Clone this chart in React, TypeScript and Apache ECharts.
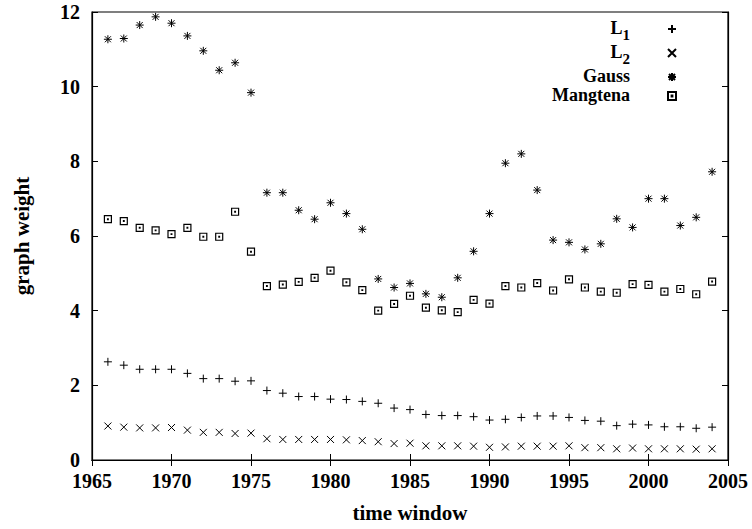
import React, { useEffect, useRef } from "react";
import * as echarts from "echarts";

const years = [
  1966, 1967, 1968, 1969, 1970, 1971, 1972, 1973, 1974, 1975,
  1976, 1977, 1978, 1979, 1980, 1981, 1982, 1983, 1984, 1985,
  1986, 1987, 1988, 1989, 1990, 1991, 1992, 1993, 1994, 1995,
  1996, 1997, 1998, 1999, 2000, 2001, 2002, 2003, 2004,
];
const l1 = [
  2.63, 2.54, 2.43, 2.43, 2.43, 2.32, 2.18, 2.18, 2.11, 2.12,
  1.86, 1.79, 1.70, 1.70, 1.63, 1.62, 1.57, 1.52, 1.39, 1.35,
  1.22, 1.19, 1.19, 1.16, 1.07, 1.09, 1.14, 1.18, 1.18, 1.14,
  1.06, 1.04, 0.92, 0.96, 0.94, 0.89, 0.89, 0.85, 0.88,
];
const l2 = [
  0.91, 0.88, 0.86, 0.86, 0.87, 0.80, 0.74, 0.74, 0.71, 0.72,
  0.57, 0.55, 0.55, 0.55, 0.55, 0.54, 0.52, 0.49, 0.44, 0.45,
  0.38, 0.38, 0.38, 0.37, 0.34, 0.35, 0.37, 0.37, 0.37, 0.38,
  0.33, 0.33, 0.30, 0.32, 0.30, 0.30, 0.30, 0.29, 0.30,
];
const gauss = [
  11.27, 11.29, 11.65, 11.87, 11.70, 11.36, 10.96, 10.44, 10.64, 9.84,
  7.16, 7.16, 6.69, 6.45, 6.89, 6.60, 6.18, 4.85, 4.62, 4.73,
  4.45, 4.36, 4.88, 5.59, 6.60, 7.95, 8.20, 7.23, 5.89, 5.83,
  5.64, 5.79, 6.46, 6.23, 7.00, 7.00, 6.28, 6.50, 7.72,
];
const mangtena = [
  6.45, 6.40, 6.22, 6.15, 6.05, 6.22, 5.98, 5.98, 6.65, 5.58,
  4.66, 4.70, 4.77, 4.88, 5.07, 4.76, 4.55, 4.00, 4.18, 4.40,
  4.08, 4.01, 3.96, 4.29, 4.19, 4.66, 4.62, 4.74, 4.54, 4.84,
  4.62, 4.51, 4.48, 4.71, 4.69, 4.51, 4.58, 4.44, 4.78,
];
const seriesNames = ["L1", "L2", "Gauss", "Mangtena"];
const xTicks = { min: 1965, max: 2005, step: 5 };
const yTicks = { min: 0, max: 12, step: 2 };

const FONT = "'Liberation Serif', 'Times New Roman', serif";

const SYM_PLUS = "path://M0,4L8,4M4,0L4,8";
const SYM_CROSS = "path://M0,0L8,8M0,8L8,0";
const SYM_STAR = "path://M0,4L8,4M4,0L4,8M1,1L7,7M1,7L7,1";
const SYM_BOX =
  "path://M0,0L8,0L8,8L0,8ZM3.6,3.6L4.4,3.6L4.4,4.4L3.6,4.4Z";

function pairs(vals: number[]) {
  return years.map((y, i) => [y, vals[i]]);
}

export default function App() {
  const ref = useRef<HTMLDivElement>(null);
  useEffect(() => {
    if (!ref.current) return;
    const chart = echarts.init(ref.current, undefined, { renderer: "svg" });
    const axisText = {
      fontFamily: FONT,
      fontWeight: "bold" as const,
      fontSize: 20,
      color: "#000",
    };
    const mk = (
      name: string,
      vals: number[],
      symbol: string,
      size: number,
      bw: number
    ) => ({
      name,
      type: "scatter",
      data: pairs(vals),
      symbol,
      symbolSize: size,
      itemStyle: {
        color: "transparent",
        borderColor: "#000",
        borderWidth: bw,
        opacity: 1,
      },
      emphasis: { disabled: true },
    });
    chart.setOption({
      animation: false,
      grid: {
        left: 92,
        right: 24,
        top: 12,
        bottom: 69,
        show: true,
        borderColor: "#000",
        borderWidth: 1.2,
        backgroundColor: "transparent",
      },
      legend: {
        data: seriesNames,
        orient: "vertical",
        align: "right",
        right: 75,
        top: 19,
        padding: 0,
        itemGap: 1,
        itemWidth: 8,
        itemHeight: 8,
        selectedMode: false,
        formatter: (name: string) => {
          if (name === "L1") return "{b|L}{s|1}";
          if (name === "L2") return "{b|L}{s|2}";
          return "{b|" + name + "}";
        },
        textStyle: {
          fontFamily: FONT,
          fontWeight: "bold",
          fontSize: 18,
          color: "#000",
          padding: [0, 33, 0, 0],
          rich: {
            b: {
              fontFamily: FONT,
              fontWeight: "bold",
              fontSize: 18,
              lineHeight: 20,
              verticalAlign: "top",
              color: "#000",
            },
            s: {
              fontFamily: FONT,
              fontWeight: "bold",
              fontSize: 15,
              lineHeight: 12,
              padding: [8, 0, 0, 0],
              verticalAlign: "top",
              color: "#000",
            },
          },
        },
      },
      xAxis: [
        {
          type: "value",
          min: xTicks.min,
          max: xTicks.max,
          interval: xTicks.step,
          name: "time window",
          nameLocation: "middle",
          nameGap: 42,
          nameTextStyle: { ...axisText, fontSize: 21 },
          axisLine: { show: true, onZero: false, lineStyle: { color: "#000", width: 1.2 } },
          axisTick: { show: true, inside: true, length: 6, lineStyle: { color: "#000" } },
          axisLabel: {
            ...axisText,
            margin: 11,
            formatter: (v: number) => String(v),
          },
          splitLine: { show: false },
        },
        {
          type: "value",
          position: "top",
          min: xTicks.min,
          max: xTicks.max,
          interval: xTicks.step,
          axisLine: { show: true, lineStyle: { color: "#000", width: 1.2 } },
          axisTick: { show: true, inside: true, length: 6, lineStyle: { color: "#000" } },
          axisLabel: { show: false },
          splitLine: { show: false },
        },
      ],
      yAxis: [
        {
          type: "value",
          min: yTicks.min,
          max: yTicks.max,
          interval: yTicks.step,
          name: "graph weight",
          nameLocation: "middle",
          nameGap: 60,
          nameTextStyle: { ...axisText, fontSize: 21 },
          axisLine: { show: true, onZero: false, lineStyle: { color: "#000", width: 1.2 } },
          axisTick: { show: true, inside: true, length: 6, lineStyle: { color: "#000" } },
          axisLabel: { ...axisText, margin: 12 },
          splitLine: { show: false },
        },
        {
          type: "value",
          position: "right",
          min: yTicks.min,
          max: yTicks.max,
          interval: yTicks.step,
          axisLine: { show: true, lineStyle: { color: "#000", width: 1.2 } },
          axisTick: { show: true, inside: true, length: 6, lineStyle: { color: "#000" } },
          axisLabel: { show: false },
          splitLine: { show: false },
        },
      ],
      series: [
        mk("L1", l1, SYM_PLUS, 8, 1),
        mk("L2", l2, SYM_CROSS, 7, 1),
        mk("Gauss", gauss, SYM_STAR, 8, 1),
        mk("Mangtena", mangtena, SYM_BOX, 7, 1.2),
      ],
    });
    return () => chart.dispose();
  }, []);
  return (
    <div
      ref={ref}
      style={{ position: "absolute", left: 0, top: 0, width: 752, height: 529 }}
    />
  );
}
